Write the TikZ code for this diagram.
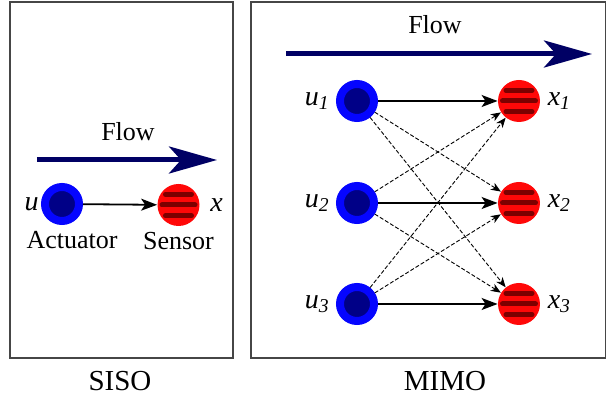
\documentclass[tikz,border=0pt]{standalone}
\usepackage{fontspec}
\setmainfont{Liberation Serif}
\usepackage{tikz}
\usetikzlibrary{arrows.meta,positioning,calc}
\definecolor{actblue}{RGB}{5,5,255}
\definecolor{actnavy}{RGB}{0,0,135}
\definecolor{flownavy}{RGB}{0,0,100}
\definecolor{sensred}{RGB}{255,8,8}
\definecolor{sensbar}{RGB}{125,0,0}
\definecolor{boxgray}{RGB}{70,70,70}

\begin{document}
\begin{tikzpicture}[
        x=0.5pt, y=-0.5pt,
        every node/.style={font=\fontsize{13}{15}\selectfont},
        panel/.style={draw=boxgray, line width=0.75pt},
        actuator/.style={circle, draw=actblue, line width=4pt, fill=actnavy, minimum size=17pt, inner sep=0pt},
        sensor/.style={circle, fill=sensred, minimum size=21pt, inner sep=0pt, path picture={
            \draw[sensbar, line width=2.5pt, line cap=round] ($(path picture bounding box.center)+(-13,-10.7)$) -- ++(26,0);
            \draw[sensbar, line width=2.5pt, line cap=round] ($(path picture bounding box.center)+(-16.5,0)$) -- ++(33,0);
            \draw[sensbar, line width=2.5pt, line cap=round] ($(path picture bounding box.center)+(-13,10.7)$) -- ++(26,0);
        }},
        tag/.style={font=\fontsize{14}{16}\selectfont, inner sep=1pt},
        caption/.style={inner sep=1pt},
        title/.style={font=\fontsize{14.5}{17}\selectfont, anchor=base},
        flow/.style={flownavy, line width=2.5pt, -{Stealth[length=24pt, width=13.5pt, inset=6pt]}},
        link/.style={line width=0.9pt, -{Stealth[length=8pt, width=6pt, inset=2pt]}},
        crosslink/.style={line width=0.45pt, dash pattern=on 2pt off 1pt, -{Stealth[length=5pt, width=4pt, inset=1.5pt]}}
    ]
        \useasboundingbox (0,0) rectangle (607,400);

        % SISO panel
        \draw[panel] (10,2) rectangle (233,358);
        \node[anchor=base] (flowtxtL) at (128,141) {Flow};
        \coordinate (flowL0) at (37,160);
        \coordinate (flowL1) at (217,160);
        \draw[flow] (flowL0) -- (flowL1);
        \node[actuator] (act) at (62,204) {};
        \node[sensor] (sen) at (178.5,205) {};
        \node[tag, left=0pt of act] (lu) {\textit{u}};
        \node[tag, right=4pt of sen] (lx) {\textit{x}};
        \node[caption, below=2pt of act, xshift=5pt] (actcap) {Actuator};
        \node[caption, below=1.5pt of sen] (sencap) {Sensor};
        \draw[link] (act) -- (sen);
        \node[title] (siso) at (120,391) {SISO};

        % MIMO panel
        \draw[panel] (251,2) rectangle (605.5,358);
        \node[anchor=base] (flowtxtR) at (435,34) {Flow};
        \coordinate (flowR0) at (286,54);
        \coordinate (flowR1) at (592,54);
        \draw[flow] (flowR0) -- (flowR1);
        \foreach \i/\y in {1/101, 2/203, 3/304} {
            \node[actuator] (u\i) at (357,\y) {};
            \node[sensor] (x\i) at (519,\y) {};
            \node[tag, left=2pt of u\i] (lu\i) {\textit{u}\textsubscript{\textit{\i}}};
            \node[tag, right=2.5pt of x\i] (lx\i) {\textit{x}\textsubscript{\textit{\i}}};
        }
        \foreach \i in {1,2,3}
            \draw[link] (u\i) -- (x\i);
        \foreach \i/\j in {1/2, 1/3, 2/1, 2/3, 3/1, 3/2}
            \draw[crosslink] (u\i) -- (x\j);
        \node[title] (mimo) at (445,391) {MIMO};
\end{tikzpicture}
\end{document}
